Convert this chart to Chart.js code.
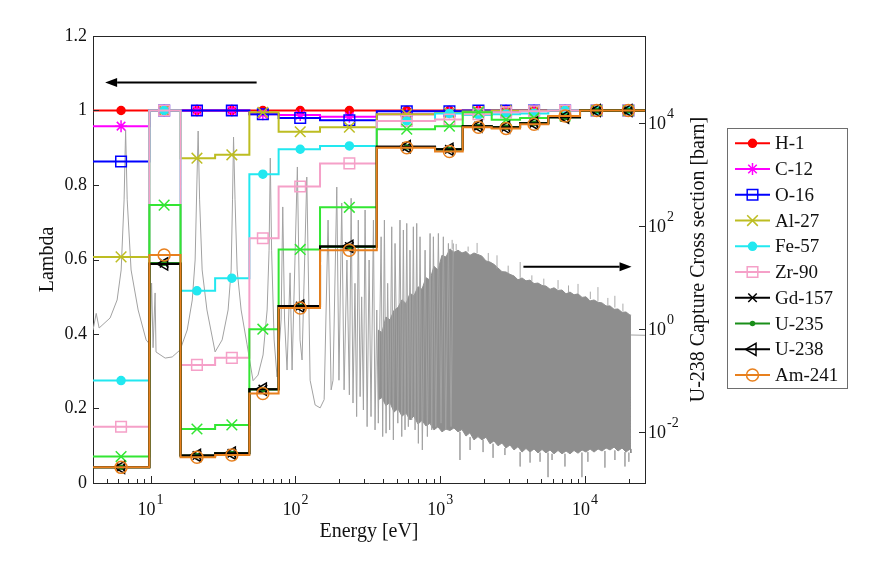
<!DOCTYPE html>
<html>
<head>
<meta charset="utf-8">
<script src="https://cdn.jsdelivr.net/npm/chart.js"></script>
<style>
html,body{margin:0;padding:0;background:#ffffff;}
#wrap{position:relative;width:878px;height:562px;}
</style>
</head>
<body>
<div id="wrap"><canvas id="c" width="878" height="562"></canvas></div>
<script>
// ---------------- DATA ----------------
// energy group boundaries [eV] and marker energies (group centres)
const groupBounds = [4, 9.8, 16.1, 27.9, 48.1, 76.6, 148, 365, 922, 1432, 2271, 3565, 5585, 9250, 15700, 26000];
const groupMid = [6.25, 12.4, 20.9, 36.4, 59.6, 108, 236, 588, 1159, 1838, 2852, 4452, 7290, 12060, 19950];

// Lambda per group
const lambdaH1   = [1, 1, 1, 1, 1, 1, 1, 1, 1, 1, 1, 1, 1, 1, 1];
const lambdaC12  = [0.958, 1, 1, 1, 0.99, 0.988, 0.983, 0.99, 0.995, 0.998, 1, 1, 1, 1, 1];
const lambdaO16  = [0.863, 1, 1, 1, 0.99, 0.98, 0.974, 0.998, 0.998, 1, 1, 1, 1, 1, 1];
const lambdaAl27 = [0.607, 1, 0.872, 0.881, 0.995, 0.943, 0.955, 0.99, 0.993, 0.997, 1, 1, 1, 1, 1];
const lambdaFe57 = [0.275, 1, 0.516, 0.55, 0.829, 0.896, 0.905, 0.972, 0.992, 0.988, 0.99, 0.992, 1, 1, 1];
const lambdaZr90 = [0.151, 1, 0.317, 0.336, 0.657, 0.796, 0.858, 0.972, 0.976, 0.99, 0.995, 0.998, 1, 1, 1];
const lambdaGreenX = [0.071, 0.746, 0.145, 0.156, 0.413, 0.627, 0.74, 0.95, 0.958, 0.995, 0.975, 0.98, 0.985, 1, 1];
const lambdaGd157 = [0.042, 0.59, 0.074, 0.08, 0.252, 0.475, 0.635, 0.903, 0.896, 0.958, 0.955, 0.966, 0.982, 1, 1];
const lambdaU235  = [0.042, 0.59, 0.073, 0.079, 0.251, 0.474, 0.634, 0.902, 0.895, 0.957, 0.955, 0.966, 0.982, 1, 1];
const lambdaU238  = [0.042, 0.588, 0.074, 0.08, 0.252, 0.475, 0.635, 0.903, 0.896, 0.958, 0.955, 0.966, 0.982, 1, 1];
const lambdaAm241 = [0.042, 0.612, 0.069, 0.075, 0.24, 0.47, 0.625, 0.9, 0.89, 0.955, 0.952, 0.963, 0.985, 1, 1];

// U-238 capture cross section [barn] : resolved resonances (E [eV], sigma)
const resE = [4.0, 4.21, 4.41, 5.25, 5.87, 6.26, 6.56, 6.72, 6.89, 7.33, 8.2, 9.31, 9.92, 10.16, 10.4, 10.74, 10.9, 12.6, 14.1, 16.0,
  17.9, 19.4, 20.3, 20.9, 21.3, 21.8, 22.7, 24.5, 27.9, 31.2, 34.3, 36.0, 36.8, 37.4, 38.3, 39.6, 42.2, 46.4, 51.0, 55.2,
  59.8, 63.8, 65.8, 67.1, 68.5, 71.3, 74.7, 79.7, 81.8, 84.2, 87.6, 91.9, 94.9, 103.2, 107.7, 111.2, 119.9, 126.4, 136.9, 148.3,
  158, 168.2, 176.6, 182, 193.2, 200, 209, 217, 227, 236,
  242.7, 250, 258, 265, 272, 280, 287, 295, 303, 313, 323, 333, 346, 355, 365, 374, 391, 401, 412, 423,
  434, 448, 463, 475, 488, 510, 528, 543, 557, 572, 588, 603, 619, 636, 653, 671, 689, 707, 726, 753,
  787, 816, 852, 875, 898, 933, 972, 1014, 1052, 1093, 1140, 1189, 1233];
const resXS = [0.95, 2.0, 1.04, 1.63, 3.65, 14, 324, 7400, 324, 14, 2.33, 0.61, 0.49, 7.8, 0.43, 5.0, 0.355, 0.27, 0.284, 0.39,
  0.95, 3.65, 21.9, 790, 7100, 324, 14, 2.33, 0.356, 0.61, 2.33, 14, 324, 5400, 324, 14, 2.33, 0.49, 0.098, 0.126,
  0.31, 2.33, 34, 2110, 34, 0.61, 0.116, 1.49, 236, 1.49, 0.158, 12.3, 0.158, 1415, 0.61, 0.248, 900, 0.1, 0.033, 0.029,
  0.042, 131, 0.065, 0.1, 575, 0.1, 282, 0.065, 21.9, 0.052,
  348, 0.036, 7.7, 0.0196, 131, 0.048, 4.2, 0.0264, 206, 0.0125, 21.9, 0.0196, 131, 0.0108, 2.33, 0.0146, 62, 0.008, 131, 0.0093,
  7.7, 0.0108, 97, 0.0069, 46, 0.0146, 131, 0.008, 84, 0.0108, 113, 0.0125, 34, 0.0169, 97, 0.0108, 113, 0.0059, 62, 0.0044,
  34, 0.008, 72, 0.0108, 62, 0.0125, 72, 0.0146, 62, 0.0108, 46, 0.0125, 46];

// unresolved dense band: ragged upper and lower envelope
const bandE  = [372, 396, 422, 450, 480, 511, 545, 581, 619, 659, 703, 749, 798, 850, 906, 966, 1029, 1097, 1169, 1246,
  1328, 1415, 1508, 1607, 1713, 1825, 1945, 2073, 2209, 2354, 2509, 2674, 2850, 3037, 3237, 3449, 3676, 3918, 4175, 4450,
  4742, 5054, 5386, 5740, 6117, 6519, 6947, 7404, 7890, 8409, 8961, 9550, 10178, 10847, 11560, 12320, 13130, 13992, 14912, 15892,
  16937, 18050, 19236, 20500, 20800];
const bandHi = [0.95, 0.85, 1.7, 1.5, 2.3, 2.6, 3.7, 3.1, 4.9, 4.4, 6.6, 5.9, 9.9, 8.9, 16.5, 14, 27, 25, 36, 31,
  34, 30, 32, 27, 30, 28, 26, 21, 20, 18, 15.3, 13, 12.8, 11.5, 10.7, 9.0, 9.8, 8.6, 8.9, 7.6,
  7.8, 7.0, 6.8, 5.9, 6.3, 5.6, 5.7, 4.8, 5.2, 4.6, 4.8, 4.1, 4.2, 3.5, 3.65, 3.3, 3.2, 2.8, 2.8, 2.4,
  2.44, 2.1, 2.13, 1.85, 1.87];
const bandLo = [0.041, 0.046, 0.032, 0.037, 0.024, 0.028, 0.020, 0.023, 0.0169, 0.020, 0.014, 0.0165, 0.0129, 0.0145, 0.0108, 0.0124, 0.0099, 0.0112, 0.0105, 0.0118,
  0.0099, 0.0110, 0.0082, 0.0095, 0.0069, 0.0080, 0.0069, 0.0078, 0.0058, 0.0066, 0.0053, 0.0060, 0.0048, 0.0055, 0.0044, 0.0051, 0.0040, 0.0047, 0.0040, 0.0046,
  0.00385, 0.0045, 0.00385, 0.0044, 0.0037, 0.0043, 0.0037, 0.0042, 0.0037, 0.0043, 0.0038, 0.0044, 0.0040, 0.0046, 0.0040, 0.0046, 0.0042, 0.0048, 0.0044, 0.0050,
  0.0042, 0.0048, 0.0040, 0.0046, 0.00385];

// isolated light spikes sticking out of the band
const spikeE    = [1210, 1800, 2470, 3570, 6520, 8960, 12300, 16100, 1370, 1610, 1980, 2320, 2800, 3570, 4180, 4900, 5560, 5930, 7280, 9530, 10480, 13740, 16100, 18900, 20100,
  1290, 1560, 2150, 2950, 4300, 5200, 7700, 10900, 14400, 18300];
const spikeFrom = [36, 30, 15, 9.8, 6, 4.8, 3.5, 2.6, 0.0099, 0.0078, 0.0069, 0.0058, 0.0048, 0.0040, 0.0040, 0.0039, 0.0039, 0.0037, 0.0037, 0.0039, 0.0040, 0.0042, 0.0043, 0.0040, 0.0039,
  34, 32, 21, 12, 8.5, 7, 5.2, 3.8, 2.9, 2.2];
const spikeTo   = [54, 47, 27, 20, 8.9, 7.5, 6.5, 4.4, 0.0028, 0.0044, 0.0040, 0.0031, 0.0035, 0.0021, 0.0025, 0.0026, 0.0013, 0.0028, 0.0021, 0.0013, 0.0026, 0.0020, 0.0028, 0.0021, 0.0026,
  45, 40, 30, 17, 11, 9.5, 7, 5.3, 4.0, 3.1];

// smooth tail above the resonance range
const tailE  = [20800, 26000];
const tailXS = [0.76, 0.75];

// axis ticks
const xDecades = [1, 2, 3, 4];
const yTicks = [0, 0.2, 0.4, 0.6, 0.8, 1, 1.2];
const y2Decades = [-2, 0, 2, 4];

// arrows (data coordinates)
const arrowLeft  = {from: 54, to: 4.85, lambda: 1.075};
const arrowRight = {from: 3760, to: 21000, xs: 16.2};

// ---------------- STYLE ----------------
const FONT = '"Liberation Serif", "Times New Roman", Times, serif';
const AXIS = '#262626';
const series = [
  {name: 'H-1',    vals: lambdaH1,    color: '#ff0000', point: 'circle',   r: 4,   fill: true},
  {name: 'C-12',   vals: lambdaC12,   color: '#ff00ff', point: 'star',     r: 6,   fill: false},
  {name: 'O-16',   vals: lambdaO16,   color: '#0000ff', point: 'rect',     r: 7.5, fill: false},
  {name: 'Al-27',  vals: lambdaAl27,  color: '#bdbd22', point: 'crossRot', r: 7.5, fill: false},
  {name: 'Fe-57',  vals: lambdaFe57,  color: '#22e8f0', point: 'circle',   r: 4,   fill: true},
  {name: 'Zr-90',  vals: lambdaZr90,  color: '#f5a0c8', point: 'rect',     r: 7.5, fill: false},
  {name: '',       vals: lambdaGreenX,color: '#33e633', point: 'crossRot', r: 7.5, fill: false, noLegend: true},
  {name: 'Gd-157', vals: lambdaGd157, color: '#000000', point: 'crossRot', r: 6,   fill: false},
  {name: 'U-235',  vals: lambdaU235,  color: '#1a8f1a', point: 'circle',   r: 2,   fill: true},
  {name: 'U-238',  vals: lambdaU238,  color: '#000000', point: 'triangle', r: 7,   fill: false, rot: -90},
  {name: 'Am-241', vals: lambdaAm241, color: '#e8801e', point: 'circle',   r: 6,   fill: false}
];

function stepData(vals) {
  const d = [];
  for (let g = 0; g < vals.length; g++) {
    d.push({x: groupBounds[g], y: vals[g]});
    d.push({x: groupMid[g], y: vals[g]});
  }
  d.push({x: groupBounds[vals.length], y: vals[vals.length - 1]});
  return d;
}

const datasets = [];
// gray cross-section curve (right axis)
datasets.push({label: 'band-hi', yAxisID: 'y2', data: bandE.map((e, i) => ({x: e, y: bandHi[i]})),
  borderColor: '#8e8e8e', borderWidth: 1, pointRadius: 0, fill: '+1', backgroundColor: '#8e8e8e', order: 210});
datasets.push({label: 'band-lo', yAxisID: 'y2', data: bandE.map((e, i) => ({x: e, y: bandLo[i]})),
  borderColor: '#8e8e8e', borderWidth: 1, pointRadius: 0, fill: false, order: 209});
const spikeData = [];
spikeE.forEach((e, i) => { spikeData.push({x: e, y: spikeFrom[i]}, {x: e, y: spikeTo[i]}, {x: e, y: null}); });
datasets.push({label: 'spikes', yAxisID: 'y2', data: spikeData, borderColor: '#ababab', borderWidth: 1,
  pointRadius: 0, fill: false, spanGaps: false, order: 205});
datasets.push({label: 'resonances', yAxisID: 'y2', data: resE.map((e, i) => ({x: e, y: resXS[i]})),
  borderColor: '#a2a2a2', borderWidth: 1, pointRadius: 0, fill: false, order: 204});
datasets.push({label: 'tail', yAxisID: 'y2', data: tailE.map((e, i) => ({x: e, y: tailXS[i]})),
  borderColor: '#a2a2a2', borderWidth: 1, pointRadius: 0, fill: false, order: 203});

series.forEach((s, i) => {
  datasets.push({
    label: s.name || 'unlabelled', yAxisID: 'y', data: stepData(s.vals),
    borderColor: s.color, borderWidth: 2, stepped: 'before', fill: false,
    pointStyle: s.point, pointRotation: s.rot || 0,
    pointRadius: c => (c.dataIndex % 2 === 1 ? s.r : 0),
    pointHoverRadius: c => (c.dataIndex % 2 === 1 ? s.r : 0),
    pointBorderColor: s.color, pointBorderWidth: 1.5,
    pointBackgroundColor: s.fill ? s.color : 'rgba(0,0,0,0)',
    order: 50 - i
  });
});

// ---------------- DRAW HELPERS ----------------
function drawMarker(ctx, s, x, y) {
  const r = s.r, rad = (s.rot || 0) * Math.PI / 180;
  ctx.save();
  ctx.lineWidth = 1.5; ctx.strokeStyle = s.color; ctx.fillStyle = s.fill ? s.color : 'rgba(0,0,0,0)';
  ctx.beginPath();
  if (s.point === 'circle') {
    ctx.arc(x, y, r, 0, 2 * Math.PI); ctx.fill(); ctx.stroke();
  } else if (s.point === 'rect') {
    const h = r * Math.SQRT1_2; ctx.rect(x - h, y - h, 2 * h, 2 * h); ctx.stroke();
  } else if (s.point === 'crossRot' || s.point === 'star') {
    const h = r * Math.SQRT1_2;
    ctx.moveTo(x - h, y - h); ctx.lineTo(x + h, y + h); ctx.moveTo(x - h, y + h); ctx.lineTo(x + h, y - h);
    if (s.point === 'star') { ctx.moveTo(x - r, y); ctx.lineTo(x + r, y); ctx.moveTo(x, y - r); ctx.lineTo(x, y + r); }
    ctx.stroke();
  } else if (s.point === 'triangle') {
    let a = rad;
    ctx.moveTo(x + Math.sin(a) * r, y - Math.cos(a) * r);
    a += 2 * Math.PI / 3; ctx.lineTo(x + Math.sin(a) * r, y - Math.cos(a) * r);
    a += 2 * Math.PI / 3; ctx.lineTo(x + Math.sin(a) * r, y - Math.cos(a) * r);
    ctx.closePath(); ctx.stroke();
  }
  ctx.restore();
}

function drawPow(ctx, exp, x, baseline, align) {
  ctx.font = '18px ' + FONT; const wb = ctx.measureText('10').width;
  ctx.font = '14px ' + FONT; const we = ctx.measureText(exp).width;
  const total = wb + 1 + we;
  const x0 = align === 'center' ? x - total / 2 : x;
  ctx.textAlign = 'left'; ctx.textBaseline = 'alphabetic';
  ctx.font = '18px ' + FONT; ctx.fillText('10', x0, baseline);
  ctx.font = '14px ' + FONT; ctx.fillText(exp, x0 + wb + 1, baseline - 11);
}

function drawArrow(ctx, x1, x2, y) {
  const dir = x2 > x1 ? 1 : -1, hl = 12, hw = 4.5;
  ctx.save();
  ctx.strokeStyle = '#000'; ctx.fillStyle = '#000'; ctx.lineWidth = 2;
  ctx.beginPath(); ctx.moveTo(x1, y); ctx.lineTo(x2 - dir * hl, y); ctx.stroke();
  ctx.beginPath(); ctx.moveTo(x2, y); ctx.lineTo(x2 - dir * hl, y - hw); ctx.lineTo(x2 - dir * hl, y + hw); ctx.closePath(); ctx.fill();
  ctx.restore();
}

const decor = {
  id: 'decor',
  afterDraw(chart) {
    const ctx = chart.ctx, a = chart.chartArea;
    const X = chart.scales.x, Y = chart.scales.y, Y2 = chart.scales.y2;
    ctx.save();
    // top frame line
    ctx.strokeStyle = AXIS; ctx.lineWidth = 1;
    ctx.beginPath(); ctx.moveTo(a.left, a.top + 0.5); ctx.lineTo(a.right, a.top + 0.5); ctx.stroke();
    // inward tick marks
    ctx.beginPath();
    for (let e = 0; e <= 4; e++) {
      for (let m = 1; m <= 9; m++) {
        const v = m * Math.pow(10, e);
        if (v < X.min || v > X.max) continue;
        const px = Math.round(X.getPixelForValue(v)) + 0.5;
        ctx.moveTo(px, a.bottom); ctx.lineTo(px, a.bottom - (m === 1 ? 7 : 4));
      }
    }
    yTicks.forEach(v => { const py = Math.round(Y.getPixelForValue(v)) + 0.5; ctx.moveTo(a.left, py); ctx.lineTo(a.left + 6, py); });
    y2Decades.forEach(d => { const py = Math.round(Y2.getPixelForValue(Math.pow(10, d))) + 0.5; ctx.moveTo(a.right, py); ctx.lineTo(a.right - 6, py); });
    ctx.stroke();

    // tick labels for log axes
    ctx.fillStyle = '#111';
    xDecades.forEach(d => drawPow(ctx, String(d), X.getPixelForValue(Math.pow(10, d)), a.bottom + 32, 'center'));
    y2Decades.forEach(d => drawPow(ctx, String(d), a.right + 3, Y2.getPixelForValue(Math.pow(10, d)) + 6, 'left'));

    // axis titles
    ctx.font = '20px ' + FONT; ctx.textAlign = 'center'; ctx.textBaseline = 'alphabetic';
    ctx.fillText('Energy [eV]', (a.left + a.right) / 2, a.bottom + 54);
    const cy = (a.top + a.bottom) / 2;
    ctx.save(); ctx.translate(53, cy); ctx.rotate(-Math.PI / 2); ctx.fillText('Lambda', 0, 0); ctx.restore();
    ctx.save(); ctx.translate(a.right + 59, cy); ctx.rotate(-Math.PI / 2); ctx.fillText('U-238 Capture Cross section [barn]', 0, 0); ctx.restore();

    // arrows
    drawArrow(ctx, X.getPixelForValue(arrowLeft.from), X.getPixelForValue(arrowLeft.to), Y.getPixelForValue(arrowLeft.lambda));
    drawArrow(ctx, X.getPixelForValue(arrowRight.from), X.getPixelForValue(arrowRight.to), Y2.getPixelForValue(arrowRight.xs));

    // legend
    const items = series.filter(s => !s.noLegend);
    const lx = 727.5, ly = 128.5, lw = 120, lh = 260, rowH = 25.75, firstY = 143.3;
    ctx.fillStyle = '#ffffff'; ctx.fillRect(lx, ly, lw, lh);
    ctx.strokeStyle = '#6e6e6e'; ctx.lineWidth = 1; ctx.strokeRect(lx, ly, lw, lh);
    items.forEach((s, i) => {
      const y = firstY + i * rowH;
      ctx.strokeStyle = s.color; ctx.lineWidth = 2;
      ctx.beginPath(); ctx.moveTo(735, y); ctx.lineTo(770, y); ctx.stroke();
      drawMarker(ctx, s, 752.5, y);
      ctx.fillStyle = '#111'; ctx.font = '19px ' + FONT; ctx.textAlign = 'left'; ctx.textBaseline = 'middle';
      ctx.fillText(s.name, 775, y + 1);
    });
    ctx.restore();
  }
};

new Chart(document.getElementById('c'), {
  type: 'line',
  data: {datasets},
  options: {
    responsive: false, animation: false, devicePixelRatio: 1,
    layout: {padding: {top: 36, left: 0, right: 0, bottom: 0}},
    plugins: {legend: {display: false}, tooltip: {enabled: false}},
    elements: {line: {tension: 0}},
    scales: {
      x: {type: 'logarithmic', min: 4, max: 26000, position: 'bottom',
        grid: {display: false, drawTicks: false}, border: {display: true, color: AXIS, width: 1},
        ticks: {display: false}, afterFit: s => { s.height = 79; }},
      y: {type: 'linear', min: 0, max: 1.2, position: 'left',
        grid: {display: false, drawTicks: false}, border: {display: true, color: AXIS, width: 1},
        ticks: {stepSize: 0.2, padding: 6, color: '#111', font: {family: FONT, size: 18},
          callback: v => String(Math.round(v * 10) / 10)},
        afterFit: s => { s.width = 93; }},
      y2: {type: 'logarithmic', min: 1e-3, max: 5.012e5, position: 'right',
        grid: {display: false, drawTicks: false}, border: {display: true, color: AXIS, width: 1},
        ticks: {display: false}, afterFit: s => { s.width = 233; }}
    }
  },
  plugins: [decor]
});
</script>
</body>
</html>
